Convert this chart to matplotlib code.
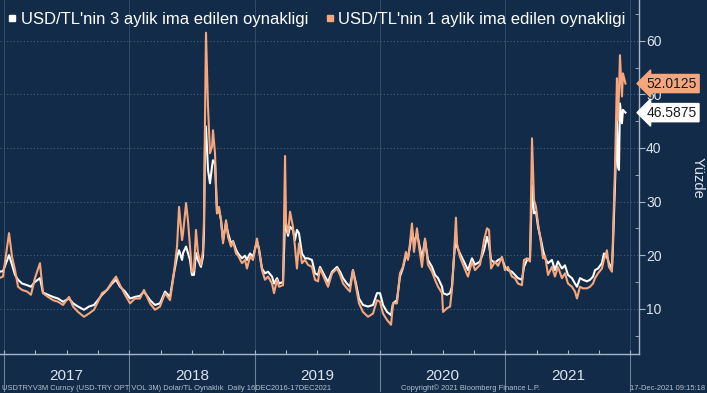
import matplotlib
matplotlib.use('Agg')
import matplotlib.pyplot as plt
from matplotlib.lines import Line2D
import matplotlib.transforms as mtransforms


BG = '#112b48'
ORANGE = '#f5a67c'
WHITE = '#ffffff'
TXT = '#dde4ec'
GRID = '#4a6079'

# time in decimal years, shared by both series
t_year = [
    2016.962, 2016.992, 2017.040, 2017.064, 2017.088, 2017.112, 2017.144, 2017.184,
    2017.215, 2017.247, 2017.287, 2017.311, 2017.351, 2017.391, 2017.431, 2017.471,
    2017.519, 2017.551, 2017.591, 2017.638, 2017.678, 2017.718, 2017.750, 2017.782,
    2017.822, 2017.862, 2017.894, 2017.926, 2017.966, 2018.006, 2018.045, 2018.085,
    2018.117, 2018.165, 2018.205, 2018.245, 2018.285, 2018.325, 2018.349, 2018.381,
    2018.397, 2018.421, 2018.429, 2018.453, 2018.468, 2018.484, 2018.500, 2018.516,
    2018.532, 2018.548, 2018.572, 2018.588, 2018.596, 2018.604, 2018.612, 2018.628,
    2018.644, 2018.660, 2018.668, 2018.684, 2018.700, 2018.716, 2018.732, 2018.748,
    2018.772, 2018.788, 2018.812, 2018.828, 2018.852, 2018.868, 2018.899, 2018.923,
    2018.939, 2018.963, 2018.987, 2019.019, 2019.035, 2019.059, 2019.083, 2019.107,
    2019.139, 2019.155, 2019.179, 2019.195, 2019.227, 2019.243, 2019.251, 2019.267,
    2019.283, 2019.306, 2019.322, 2019.338, 2019.354, 2019.378, 2019.402, 2019.426,
    2019.458, 2019.482, 2019.506, 2019.522, 2019.562, 2019.586, 2019.618, 2019.658,
    2019.682, 2019.706, 2019.737, 2019.761, 2019.785, 2019.809, 2019.833, 2019.865,
    2019.905, 2019.945, 2019.977, 2020.001, 2020.025, 2020.057, 2020.089, 2020.105,
    2020.136, 2020.160, 2020.184, 2020.208, 2020.224, 2020.240, 2020.256, 2020.272,
    2020.296, 2020.312, 2020.336, 2020.360, 2020.384, 2020.416, 2020.440, 2020.464,
    2020.496, 2020.504, 2020.536, 2020.560, 2020.575, 2020.591, 2020.607, 2020.615,
    2020.639, 2020.671, 2020.703, 2020.735, 2020.759, 2020.799, 2020.831, 2020.855,
    2020.871, 2020.887, 2020.919, 2020.943, 2020.974, 2020.998, 2021.022, 2021.054,
    2021.078, 2021.102, 2021.134, 2021.150, 2021.174, 2021.198, 2021.214, 2021.230,
    2021.246, 2021.262, 2021.286, 2021.302, 2021.318, 2021.342, 2021.373, 2021.397,
    2021.421, 2021.453, 2021.477, 2021.501, 2021.533, 2021.557, 2021.573, 2021.597,
    2021.621, 2021.653, 2021.677, 2021.701, 2021.717, 2021.741, 2021.772, 2021.788,
    2021.812, 2021.828, 2021.852, 2021.860, 2021.876, 2021.892, 2021.900, 2021.908,
    2021.916, 2021.932, 2021.940, 2021.960,
]

# 1 month implied vol (orange)
vol_1m = [
    15.7, 16.0, 24.1, 19.7, 17.2, 14.1, 13.5, 13.2,
    12.6, 15.7, 18.5, 12.9, 12.2, 11.6, 11.3, 10.7,
    12.2, 10.4, 9.4, 8.5, 9.1, 9.8, 11.3, 12.9,
    13.5, 15.0, 16.0, 14.4, 12.6, 11.0, 11.9, 11.9,
    13.5, 11.0, 9.8, 10.4, 12.9, 11.6, 15.4, 21.6,
    29.0, 22.8, 24.1, 29.7, 26.5, 21.6, 16.9, 17.2,
    24.7, 20.4, 18.2, 20.9, 26.5, 45.2, 61.5, 47.7,
    39.0, 40.2, 43.3, 39.0, 27.8, 29.0, 26.5, 22.2,
    26.5, 23.4, 21.6, 22.5, 20.3, 19.9, 18.5, 19.1,
    17.5, 19.7, 19.1, 23.1, 20.9, 17.2, 15.4, 16.0,
    14.7, 12.9, 15.4, 14.1, 14.4, 38.5, 26.0, 24.1,
    28.1, 25.3, 21.6, 17.5, 22.2, 18.5, 19.1, 18.2,
    17.8, 15.4, 15.1, 17.5, 15.4, 14.1, 16.6, 17.5,
    16.3, 14.7, 13.8, 13.2, 17.2, 14.1, 11.0, 9.4,
    8.5, 9.1, 11.6, 11.3, 9.1, 7.9, 7.0, 11.0,
    11.0, 16.6, 17.8, 20.6, 19.1, 22.2, 25.9, 20.6,
    25.0, 21.6, 17.8, 23.1, 18.2, 16.9, 15.4, 14.1,
    12.9, 9.4, 10.1, 10.4, 13.5, 19.7, 27.0, 22.2,
    19.7, 17.8, 16.0, 18.8, 17.2, 18.2, 22.8, 25.0,
    24.7, 17.5, 18.8, 18.0, 19.7, 17.2, 17.8, 16.0,
    15.7, 14.7, 14.4, 19.1, 19.4, 18.8, 41.8, 30.3,
    29.0, 25.9, 22.2, 19.4, 19.9, 16.3, 17.8, 16.0,
    17.8, 15.7, 16.6, 14.7, 14.1, 13.2, 11.9, 14.1,
    13.8, 13.8, 14.1, 14.7, 15.7, 16.6, 17.5, 19.1,
    20.9, 17.8, 16.9, 23.4, 35.9, 53.0, 45.2, 50.0,
    57.3, 49.6, 53.9, 52.0125,
]

# 3 month implied vol (white)
vol_3m = [
    16.9, 17.0, 20.0, 18.2, 16.3, 15.4, 14.7, 14.4,
    14.1, 15.0, 15.7, 13.0, 12.6, 12.2, 11.9, 11.3,
    11.9, 11.0, 10.4, 9.8, 10.4, 10.7, 11.6, 12.6,
    13.5, 14.7, 15.4, 14.1, 13.2, 11.9, 12.2, 12.4,
    13.2, 11.6, 10.7, 11.0, 13.2, 12.2, 15.7, 19.7,
    20.9, 19.1, 20.4, 21.6, 20.4, 19.1, 16.3, 16.3,
    20.4, 19.1, 17.8, 19.7, 24.1, 40.2, 44.0, 35.9,
    33.4, 36.5, 37.7, 37.1, 27.8, 28.5, 26.5, 22.8,
    26.0, 24.1, 22.2, 22.6, 21.0, 20.3, 19.4, 19.9,
    19.1, 20.3, 19.7, 22.5, 21.2, 17.5, 16.6, 16.9,
    16.0, 14.7, 15.7, 14.7, 15.0, 26.5, 25.3, 23.6,
    25.3, 24.7, 22.8, 24.7, 24.1, 20.3, 19.4, 19.4,
    19.1, 16.6, 16.3, 17.8, 16.0, 15.0, 16.9, 17.8,
    16.9, 15.7, 14.7, 14.1, 17.2, 14.7, 11.9, 10.7,
    10.4, 10.7, 12.9, 12.9, 10.7, 9.4, 8.8, 11.0,
    11.6, 16.0, 17.6, 20.0, 19.4, 21.6, 24.7, 22.2,
    24.1, 22.2, 19.4, 22.8, 19.1, 17.8, 16.3, 15.7,
    14.1, 12.9, 12.6, 12.9, 14.1, 19.4, 24.1, 21.6,
    20.3, 18.8, 17.2, 19.4, 18.2, 18.8, 20.9, 23.4,
    22.0, 19.1, 18.5, 19.1, 19.4, 17.8, 17.2, 16.9,
    16.3, 15.7, 15.4, 17.8, 19.1, 19.4, 33.0, 27.8,
    28.1, 25.3, 22.8, 20.9, 19.4, 18.5, 19.1, 17.2,
    18.8, 17.5, 18.1, 16.3, 15.7, 14.7, 14.1, 15.7,
    15.4, 15.1, 15.4, 16.0, 17.2, 17.5, 18.5, 20.3,
    19.7, 18.5, 17.5, 21.6, 32.8, 45.2, 36.5, 35.9,
    48.3, 44.6, 47.1, 46.5875,
]

years = [2017, 2018, 2019, 2020, 2021]
yticks = [10, 20, 30, 40, 50, 60]
label_3m = "USD/TL'nin 3 aylik ima edilen oynakligi"
label_1m = "USD/TL'nin 1 aylik ima edilen oynakligi"
footer_left = 'USDTRYV3M Curncy (USD-TRY OPT VOL 3M) Dolar/TL Oynaklık  Daily 16DEC2016-17DEC2021'
footer_mid = 'Copyright\u00a9 2021 Bloomberg Finance L.P.'
footer_right = '17-Dec-2021 09:15:18'

plt.rcParams['font.family'] = ['Liberation Sans', 'DejaVu Sans']

fig = plt.figure(figsize=(7.07, 3.93), dpi=100, facecolor=BG)
ax = fig.add_axes([0.0, 39 / 393, 639 / 707, 354 / 393], facecolor=BG)

ax.plot(t_year, vol_3m, color=WHITE, lw=1.5, zorder=3)
ax.plot(t_year, vol_1m, color=ORANGE, lw=1.5, zorder=4)

ax.set_xlim(2016.968, 2022.068)
ax.set_ylim(1.55, 67.6)

# axes style
for s in ['left', 'top']:
    ax.spines[s].set_visible(False)
for s in ['right', 'bottom']:
    ax.spines[s].set_color('#aab6c4')
    ax.spines[s].set_linewidth(1.0)

ax.yaxis.tick_right()
ax.set_yticks(yticks)
ax.set_yticks([5, 15, 25, 35, 45, 55, 65], minor=True)
ax.tick_params(axis='y', which='major', colors='#aab6c4', labelcolor=TXT,
               labelsize=10, length=4, direction='out', pad=1)
ax.tick_params(axis='y', which='minor', colors='#aab6c4', length=3, direction='in')
ax.grid(axis='y', which='major', color=GRID, ls=(0, (1, 2)), lw=0.8)

ax.set_xticks([y + q / 4 for y in years + [2022] for q in range(4)
               if 2016.968 < y + q / 4 < 2022.06])
ax.tick_params(axis='x', which='major', colors='#aab6c4', length=3,
               direction='in', labelbottom=False)
for y in years + [2022]:
    ax.axvline(y, color=GRID, lw=0.6, alpha=0.7, zorder=1)

# year separators and labels under the axis
trans = mtransforms.blended_transform_factory(ax.transData, ax.transAxes)
for y in years + [2022]:
    ax.plot([y, y], [0, -0.105], transform=trans, color='#6b7f96', lw=0.8,
            clip_on=False)
for y in years:
    ax.text(y + 0.5, -0.062, str(y), transform=trans, ha='center', va='center',
            color=TXT, fontsize=11)

# legend
handles = [
    Line2D([], [], ls='none', marker='s', ms=5, color=WHITE),
    Line2D([], [], ls='none', marker='s', ms=5, color=ORANGE),
]
leg = ax.legend(handles, [label_3m, label_1m], loc='upper left', ncol=2,
                frameon=False, bbox_to_anchor=(-0.004, 0.995), fontsize=12,
                handlelength=0.6, handletextpad=0.2, columnspacing=1.0,
                borderaxespad=0.2)
for txt in leg.get_texts():
    txt.set_color(WHITE)

# last value tags (they sit over the 50 label, as in the original)
ytrans = mtransforms.blended_transform_factory(ax.transAxes, ax.transData)
ax.text(1.012, vol_1m[-1], f'{vol_1m[-1]:.4f}', transform=ytrans, va='center',
        ha='left', fontsize=10, color='#1a1a1a', zorder=10,
        bbox=dict(boxstyle='larrow,pad=0.15', fc=ORANGE, ec=ORANGE))
ax.text(1.012, vol_3m[-1], f'{vol_3m[-1]:.4f}', transform=ytrans, va='center',
        ha='left', fontsize=10, color='#1a1a1a', zorder=10,
        bbox=dict(boxstyle='larrow,pad=0.15', fc=WHITE, ec=WHITE))

fig.text(698 / 707, 1 - 178 / 393, 'Yüzde', rotation=270, ha='center',
         va='center', color=TXT, fontsize=10.5)

# footer
fig.text(2 / 707, 5 / 393, footer_left, color='#b8c2cd', fontsize=5.4,
         ha='left', va='center')
fig.text(401 / 707, 5 / 393, footer_mid, color='#b8c2cd', fontsize=5.4,
         ha='left', va='center')
fig.text(705 / 707, 5 / 393, footer_right, color='#b8c2cd', fontsize=5.4,
         ha='right', va='center')

fig.savefig('out.png', dpi=100, facecolor=BG)
